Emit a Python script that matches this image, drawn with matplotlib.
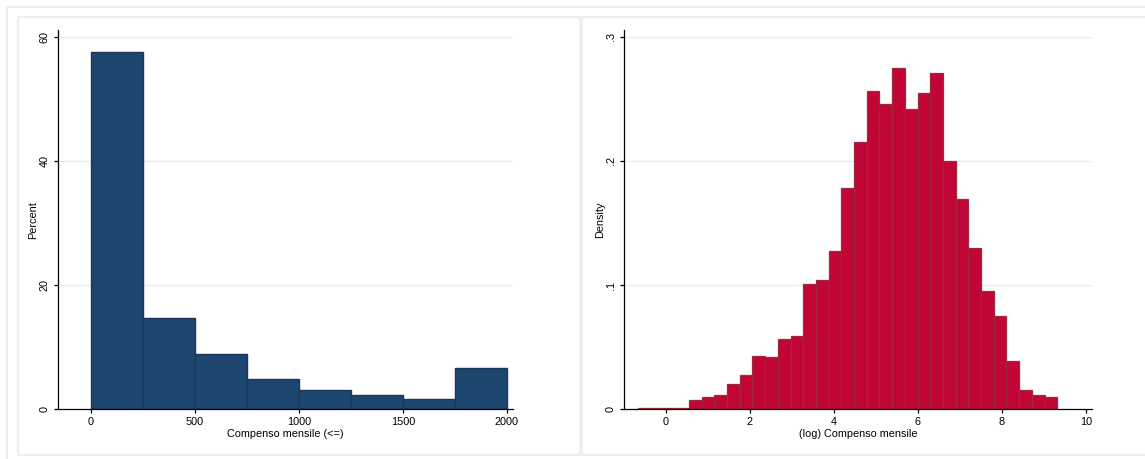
import numpy as np
import matplotlib.pyplot as plt
from matplotlib.patches import Rectangle

plt.rcParams['font.family'] = ['Liberation Sans', 'DejaVu Sans']

# left panel: percent by monthly pay bracket (<=)
pay_edges = [0, 250, 500, 750, 1000, 1250, 1500, 1750, 2000]
pay_pct = [57.6, 14.65, 8.86, 4.88, 3.10, 2.25, 1.66, 6.60]
pay_ticks = [0, 500, 1000, 1500, 2000]
pct_ticks = [0, 20, 40, 60]

# right panel: density of log monthly pay
log_start = -0.659
log_width = 0.3024
log_density = [0.001, 0.001, 0.001, 0.001, 0.0075, 0.0097, 0.0115, 0.0204,
               0.0276, 0.0429, 0.0421, 0.0566, 0.0590, 0.1009, 0.1039, 0.1275,
               0.1782, 0.2150, 0.2563, 0.2456, 0.2746, 0.2418, 0.2544, 0.2705,
               0.1997, 0.1691, 0.1299, 0.0950, 0.0751, 0.0389, 0.0156, 0.0113,
               0.0097]
log_ticks = [0, 2, 4, 6, 8, 10]
dens_ticks = [0, 0.1, 0.2, 0.3]
dens_labels = ["0", ".1", ".2", ".3"]

W, H = 1145, 459
FS = 7.8
fig = plt.figure(figsize=(W / 100, H / 100), dpi=100)
frame_col = "#e8eef0"


def px_rect(x0, y0, x1, y1):
    # rectangle given in image pixels (top-left origin)
    fig.add_artist(Rectangle((x0 / W, 1 - y1 / H), (x1 - x0) / W, (y1 - y0) / H,
                             transform=fig.transFigure, fill=False,
                             edgecolor=frame_col, lw=1.3))


px_rect(7, 7, 1160, 470)
px_rect(18, 17, 580, 455)
px_rect(582, 17, 1160, 455)


def style(ax, ylab_x):
    for s in ["top", "right"]:
        ax.spines[s].set_visible(False)
    for s in ["left", "bottom"]:
        ax.spines[s].set_linewidth(0.9)
    ax.tick_params(direction="out", length=2.9, width=0.9, labelsize=FS)
    ax.tick_params(axis="x", pad=2.5)
    ax.tick_params(axis="y", pad=6.7)
    for lab in ax.get_yticklabels():
        lab.set_rotation(90)
        lab.set_ha("center")
        lab.set_va("center")
    ax.yaxis.grid(True, color=frame_col, lw=1)
    ax.set_axisbelow(True)
    ax.yaxis.get_gridlines()[0].set_visible(False)
    ax.xaxis.set_label_coords(0.5, -0.052)
    ax.yaxis.set_label_coords(ylab_x, 0.5)


# ---------------- left panel ----------------
ax1 = fig.add_axes([58.3 / W, 1 - 409.3 / H, (513 - 58.3) / W, (409.3 - 30) / H])
ax1.bar(pay_edges[:-1], pay_pct, width=np.diff(pay_edges), align="edge",
        color="#1d466e", edgecolor="#1b3659", lw=1)
ax1.set_xlim(-157, 2030)
ax1.set_ylim(0, 61.1)
ax1.set_xticks(pay_ticks)
ax1.set_yticks(pct_ticks)
ax1.set_xlabel("Compenso mensile (<=)", fontsize=FS)
ax1.set_ylabel("Percent", fontsize=FS)
style(ax1, -0.0446)

# ---------------- right panel ----------------
log_edges = log_start + log_width * np.arange(len(log_density))
ax2 = fig.add_axes([624.3 / W, 1 - 409.3 / H, (1091.7 - 624.3) / W, (409.3 - 30) / H])
ax2.bar(log_edges, log_density, width=log_width, align="edge",
        color="#c10534", edgecolor="#9c2a3c", lw=0.9)
ax2.set_xlim(-0.99, 10.14)
ax2.set_ylim(0, 0.3054)
ax2.set_xticks(log_ticks)
ax2.set_yticks(dens_ticks)
ax2.set_yticklabels(dens_labels)
ax2.set_xlabel("(log) Compenso mensile", fontsize=FS)
ax2.set_ylabel("Density", fontsize=FS)
style(ax2, -0.0413)

fig.savefig("out.png", dpi=100)
